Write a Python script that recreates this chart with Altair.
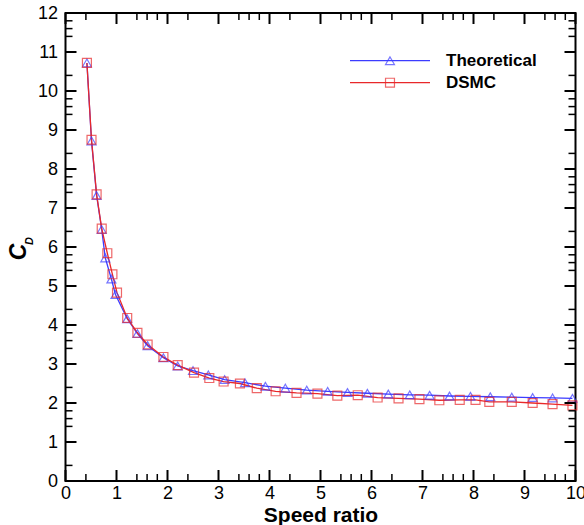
import altair as alt
import pandas as pd

# ---- data ----
theo_x = [0.42, 0.51, 0.61, 0.71, 0.78, 0.90, 0.98, 1.21, 1.41, 1.61, 1.92, 2.20, 2.50, 2.80,
          3.12, 3.52, 3.92, 4.31, 4.73, 5.14, 5.53, 5.92, 6.33, 6.75, 7.14, 7.53, 7.94, 8.33,
          8.75, 9.16, 9.55, 9.94]
theo_y = [10.72, 8.72, 7.32, 6.45, 5.72, 5.18, 4.78, 4.16, 3.78, 3.47, 3.16, 2.95, 2.83, 2.72,
          2.60, 2.52, 2.43, 2.38, 2.33, 2.30, 2.27, 2.25, 2.23, 2.21, 2.20, 2.18, 2.17, 2.16,
          2.15, 2.14, 2.13, 2.12]
dsmc_x = [0.42, 0.51, 0.61, 0.71, 0.82, 0.92, 1.01, 1.21, 1.41, 1.61, 1.92, 2.20, 2.52, 2.82,
          3.10, 3.42, 3.75, 4.12, 4.53, 4.94, 5.33, 5.73, 6.12, 6.53, 6.94, 7.33, 7.73, 8.04,
          8.31, 8.75, 9.16, 9.55, 9.94]
dsmc_y = [10.72, 8.75, 7.35, 6.47, 5.84, 5.30, 4.83, 4.18, 3.80, 3.50, 3.18, 2.97, 2.78, 2.64,
          2.55, 2.50, 2.38, 2.30, 2.26, 2.24, 2.19, 2.20, 2.14, 2.12, 2.10, 2.07, 2.08, 2.08,
          2.03, 2.03, 2.00, 1.97, 1.94]

series_names = ["Theoretical", "DSMC"]
series_colors = ["#3c3cff", "#e8282a"]
series_shapes = ["triangle-up", "square"]

x_major = list(range(0, 11))
x_minor = [0.4, 1.4, 1.6, 1.8, 2.4, 3.4, 3.6, 3.8, 4.4, 5.4, 5.6, 5.8, 6.4,
           7.4, 7.6, 7.8, 8.4, 9.4, 9.6, 9.8]
y_major = list(range(0, 13))
y_minor = [0.4, 1.4, 1.6, 1.8, 2.4, 3.4, 3.6, 3.8, 4.4, 5.4, 5.6, 5.8, 6.4,
           7.4, 7.6, 7.8, 8.4, 9.4, 9.6, 9.8, 10.4, 11.4, 11.6, 11.8]

W, H = 510, 468
FONT = "Liberation Sans"

df = pd.concat([
    pd.DataFrame({"x": theo_x, "y": theo_y, "series": series_names[0]}),
    pd.DataFrame({"x": dsmc_x, "y": dsmc_y, "series": series_names[1]}),
])

xs = alt.Scale(domain=[0, 10], nice=False, zero=False)
ys = alt.Scale(domain=[0, 12], nice=False, zero=False)
color = alt.Color("series:N", scale=alt.Scale(domain=series_names, range=series_colors), legend=None)
shape = alt.Shape("series:N", scale=alt.Scale(domain=series_names, range=series_shapes), legend=None)

xaxis = alt.Axis(values=x_major, format="d", title="Speed ratio", ticks=False, domain=False,
                 grid=False, labelFont=FONT, labelFontSize=18, labelColor="black",
                 labelPadding=3, titleFont=FONT, titleFontSize=21, titleFontWeight="bold",
                 titleColor="black", titlePadding=2, labelFlush=False, labelOverlap=False)
yaxis = alt.Axis(values=y_major, format="d", title="", ticks=False, domain=False, grid=False,
                 labelFont=FONT, labelFontSize=18, labelColor="black", labelPadding=8,
                 labelFlush=False, labelOverlap=False)

X = alt.X("x:Q", scale=xs, axis=xaxis, title="Speed ratio")
Y = alt.Y("y:Q", scale=ys, axis=yaxis, title="")

lines = alt.Chart(df).mark_line(strokeWidth=1.3).encode(
    x=X, y=Y, color=color, detail="series:N")
points = alt.Chart(df).mark_point(filled=False, size=80, strokeWidth=1.2).encode(
    x=X, y=Y, color=color, shape=shape)

def xticks(vals, length, width):
    d = pd.DataFrame({"x": vals})
    bot = alt.Chart(d).mark_rule(color="black", strokeWidth=width).encode(
        x=X, y=alt.value(H), y2=alt.value(H - length))
    top = alt.Chart(d).mark_rule(color="black", strokeWidth=width).encode(
        x=X, y=alt.value(0), y2=alt.value(length))
    return [bot, top]

def yticks(vals, length, width):
    d = pd.DataFrame({"y": vals})
    lft = alt.Chart(d).mark_rule(color="black", strokeWidth=width).encode(
        y=Y, x=alt.value(0), x2=alt.value(length))
    rgt = alt.Chart(d).mark_rule(color="black", strokeWidth=width).encode(
        y=Y, x=alt.value(W), x2=alt.value(W - length))
    return [lft, rgt]

ticks = xticks(x_major, 11, 2) + xticks(x_minor, 7, 1.5) + yticks(y_major, 11, 2) + yticks(y_minor, 7, 1.5)

one = alt.Data(values=[{"a": 1}])
legend_layers = []
leg_y = [47.7, 69.7]
for name, col, shp, yy in zip(series_names, series_colors, series_shapes, leg_y):
    legend_layers.append(alt.Chart(one).mark_rule(color=col, strokeWidth=1.3).encode(
        x=alt.value(284.5), x2=alt.value(364.5), y=alt.value(yy)))
    legend_layers.append(alt.Chart(one).mark_point(shape=shp, filled=False, color=col, size=80,
                                                   strokeWidth=1.2).encode(
        x=alt.value(324.5), y=alt.value(yy)))
    legend_layers.append(alt.Chart(one).mark_text(text=name, align="left", baseline="middle",
                                                  font=FONT, fontSize=17, fontWeight="bold",
                                                  color="black").encode(
        x=alt.value(380.5), y=alt.value(yy)))

ytitle_c = alt.Chart(one).mark_text(text="C", angle=270, align="center", baseline="middle",
                                    font=FONT, fontSize=23, fontWeight="bold", fontStyle="italic",
                                    color="black").encode(x=alt.value(-47), y=alt.value(239))
ytitle_d = alt.Chart(one).mark_text(text="D", angle=270, align="center", baseline="middle",
                                    font=FONT, fontSize=11, fontWeight="bold", fontStyle="italic",
                                    color="black").encode(x=alt.value(-36), y=alt.value(228))

chart = alt.layer(lines, points, *ticks, *legend_layers, ytitle_c, ytitle_d).properties(
    width=W, height=H,
    autosize=alt.AutoSizeParams(type="none"),
    padding={"left": 65.5, "top": 13, "right": 8.5, "bottom": 44},
    background="white",
).configure_view(stroke="black", strokeWidth=2)

chart.save("out.html", embed_options={"renderer": "svg", "actions": False})
